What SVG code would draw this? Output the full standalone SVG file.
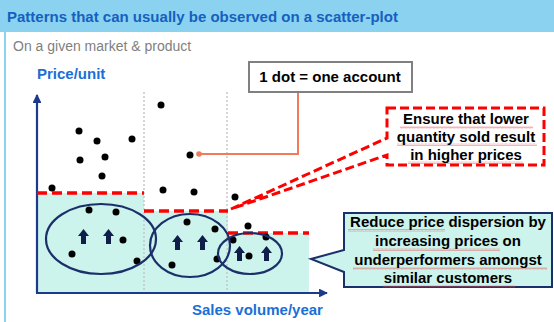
<svg xmlns="http://www.w3.org/2000/svg" width="554" height="322" viewBox="0 0 554 322">
  <style>
    .title { font: bold 15px "Liberation Sans", Arial, sans-serif; fill: #1560c0; }
    .sub { font: 14px "Liberation Sans", Arial, sans-serif; fill: #7f7f7f; }
    .axis-label { font: bold 15px "Liberation Sans", Arial, sans-serif; fill: #1a6fd6; }
    .note { font: bold 15px "Liberation Sans", Arial, sans-serif; fill: #000; text-anchor: middle; }
    .dot { fill: #000; }
    .grid { stroke: #c8c8c8; stroke-width: 1.5; stroke-dasharray: 2 2; fill: none; }
    .step { stroke: #ff0000; stroke-width: 3.5; stroke-dasharray: 10 5; fill: none; }
    .cluster { stroke: #1b2f6b; stroke-width: 2.2; fill: none; }
    .axis { stroke: #1b3a8c; stroke-width: 2.2; fill: none; }
    .squiggle { fill: url(#wave); opacity: 0.7; }
  </style>
  <defs>
    <marker id="axisHead" viewBox="0 0 10 10" refX="9" refY="5" markerWidth="4" markerHeight="4" orient="auto">
      <path d="M0,0 L10,5 L0,10 Z" fill="#1b3a8c"/>
    </marker>
    <symbol id="upArrow" viewBox="0 0 11 15" overflow="visible">
      <path d="M5.5,0 L11,7 L8,7 L8,15 L3,15 L3,7 L0,7 Z" fill="#0f1f4a"/>
    </symbol>
    <pattern id="wave" width="4" height="3" patternUnits="userSpaceOnUse">
      <path d="M0,2.5 L1,0.5 L2,2.5 L3,0.5 L4,2.5" stroke="#e84a4a" stroke-width="0.6" fill="none"/>
    </pattern>
  </defs>

  <!-- page frame -->
  <rect x="0" y="0" width="554" height="322" fill="#ffffff"/>
  <rect x="0" y="0" width="554" height="32" fill="#8ad2f0"/>
  <rect x="4" y="32" width="2" height="290" fill="#8ad2f0"/>
  <text class="title" x="7" y="22">Patterns that can usually be observed on a scatter-plot</text>
  <text class="sub" x="13" y="51">On a given market &amp; product</text>

  <!-- stepped price floor area -->
  <path d="M38,193 H144 V211 H228 V233 H309 V292 H38 Z" fill="#ccf3ec"/>

  <!-- volume band separators -->
  <g id="grid">
    <line class="grid" x1="144" y1="92" x2="144" y2="292"/>
    <line class="grid" x1="227" y1="92" x2="227" y2="292"/>
  </g>

  <!-- axes -->
  <g id="axes">
    <line class="axis" x1="37" y1="293" x2="37" y2="95" marker-end="url(#axisHead)"/>
    <line class="axis" x1="36" y1="293" x2="327" y2="293" marker-end="url(#axisHead)"/>
    <text class="axis-label" x="37" y="79">Price/unit</text>
    <text class="axis-label" x="192" y="315">Sales volume/year</text>
  </g>

  <!-- price floor per volume band -->
  <g id="floors">
    <line class="step" x1="37" y1="193" x2="144" y2="193"/>
    <line class="step" x1="144" y1="211" x2="228" y2="211"/>
    <line class="step" x1="228" y1="233" x2="309" y2="233"/>
  </g>

  <!-- accounts -->
  <g id="dots">
    <circle class="dot" cx="79" cy="131" r="3.5"/>
    <circle class="dot" cx="97" cy="141" r="3.5"/>
    <circle class="dot" cx="132" cy="139" r="3.5"/>
    <circle class="dot" cx="80" cy="160" r="3.5"/>
    <circle class="dot" cx="105" cy="157" r="3.5"/>
    <circle class="dot" cx="102" cy="176" r="3.5"/>
    <circle class="dot" cx="52" cy="188" r="3.5"/>
    <circle class="dot" cx="161" cy="105" r="3.5"/>
    <circle class="dot" cx="190" cy="155" r="3.5"/>
    <circle class="dot" cx="163" cy="190" r="3.5"/>
    <circle class="dot" cx="194" cy="192" r="3.5"/>
    <circle class="dot" cx="235" cy="197" r="3.5"/>
    <circle class="dot" cx="89" cy="210" r="3.5"/>
    <circle class="dot" cx="116" cy="212" r="3.5"/>
    <circle class="dot" cx="123" cy="240" r="3.5"/>
    <circle class="dot" cx="72" cy="254" r="3.5"/>
    <circle class="dot" cx="137" cy="261" r="3.5"/>
    <circle class="dot" cx="187" cy="222" r="3.5"/>
    <circle class="dot" cx="215" cy="229" r="3.5"/>
    <circle class="dot" cx="217" cy="259" r="3.5"/>
    <circle class="dot" cx="172" cy="265" r="3.5"/>
    <circle class="dot" cx="248" cy="226" r="3.5"/>
    <circle class="dot" cx="266" cy="237" r="3.5"/>
    <circle class="dot" cx="233" cy="240" r="3.5"/>
    <circle class="dot" cx="249" cy="256" r="3.5"/>
  </g>

  <!-- underperformer clusters -->
  <g id="cluster-1">
    <ellipse class="cluster" cx="101" cy="239" rx="55" ry="35"/>
    <use href="#upArrow" x="78" y="229" width="11" height="15"/>
    <use href="#upArrow" x="103" y="229" width="11" height="15"/>
  </g>
  <g id="cluster-2">
    <ellipse class="cluster" cx="190" cy="245.5" rx="40" ry="31.5"/>
    <use href="#upArrow" x="172" y="235" width="11" height="15"/>
    <use href="#upArrow" x="197" y="235" width="11" height="15"/>
  </g>
  <g id="cluster-3">
    <ellipse class="cluster" cx="250" cy="253.5" rx="32" ry="20.5"/>
    <use href="#upArrow" x="234" y="246" width="11" height="15"/>
    <use href="#upArrow" x="261" y="246" width="11" height="15"/>
  </g>

  <!-- legend callout -->
  <g id="legend">
    <polyline points="298,92 298,154 199,154" fill="none" stroke="#f07a5c" stroke-width="2"/>
    <circle cx="199" cy="154" r="2.8" fill="#f07a5c"/>
    <rect x="249" y="62" width="163" height="30" fill="#ffffff" stroke="#808080" stroke-width="2"/>
    <text class="note" x="330" y="82">1 dot = one account</text>
  </g>

  <!-- price-ladder callout -->
  <g id="note-ladder">
    <path d="M387,108 H544 V165 H387 V155 L231,209 L387,138 Z" fill="#ffffff" stroke="#ff0000" stroke-width="3" stroke-dasharray="9 4"/>
    <rect class="squiggle" x="400" y="126" width="133" height="3"/>
    <rect class="squiggle" x="397" y="143" width="140" height="3"/>
    <rect class="squiggle" x="408" y="161" width="115" height="3"/>
    <text class="note" x="466" y="124">Ensure  that lower</text>
    <text class="note" x="466" y="142">quantity sold result</text>
    <text class="note" x="466" y="160">in higher prices</text>
  </g>

  <!-- dispersion callout -->
  <g id="note-dispersion">
    <path d="M344,213 H552 V287 H344 V272 L311,259 L344,250 Z" fill="#ccf3ec" stroke="#1b2f6b" stroke-width="2"/>
    <rect class="squiggle" x="348" y="229" width="97" height="3"/>
    <rect class="squiggle" x="373" y="248" width="127" height="3"/>
    <rect class="squiggle" x="353" y="267" width="194" height="3"/>
    <rect class="squiggle" x="383" y="285" width="132" height="3"/>
    <text class="note" x="448" y="227">Reduce price dispersion by</text>
    <text class="note" x="448" y="246">increasing prices on</text>
    <text class="note" x="448" y="265">underperformers amongst</text>
    <text class="note" x="448" y="283">similar  customers</text>
  </g>
</svg>
